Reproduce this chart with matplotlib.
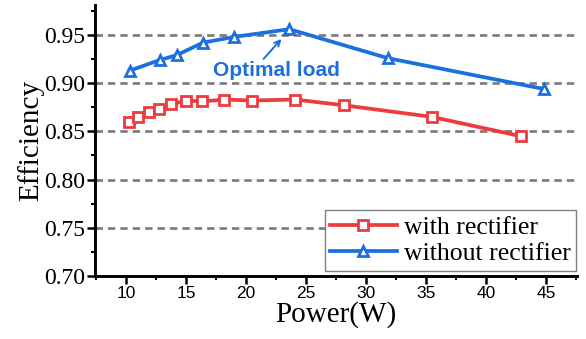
from matplotlib import pyplot as plt
from matplotlib.ticker import MultipleLocator
import numpy as np

# data
power_rect = [10.2, 11.0, 11.9, 12.7, 13.7, 15.0, 16.3, 18.2, 20.5, 24.1, 28.2, 35.5, 42.9]
eff_rect = [0.860, 0.865, 0.870, 0.873, 0.878, 0.882, 0.881, 0.883, 0.882, 0.883, 0.877, 0.865, 0.845]
power_norect = [10.3, 12.8, 14.2, 16.4, 19.0, 23.6, 31.8, 44.8]
eff_norect = [0.913, 0.924, 0.929, 0.942, 0.948, 0.956, 0.926, 0.894]
labels = ["with rectifier", "without rectifier"]

red = "#EE3B3E"
blue = "#1C6FDE"
serif = "Liberation Serif"
sans = "Liberation Sans"

fig, ax = plt.subplots(figsize=(5.86, 3.39), dpi=100)
fig.subplots_adjust(left=0.162, right=0.985, bottom=0.186, top=0.985)

ax.plot(power_rect, eff_rect, color=red, lw=2.7, marker="s", ms=6.5,
		mfc="white", mec=red, mew=2.0, label=labels[0], zorder=3)
ax.plot(power_norect, eff_norect, color=blue, lw=2.7, marker="^", ms=7.5,
		mfc="white", mec=blue, mew=2.0, label=labels[1], zorder=3)

ax.set_xlim(7.4, 47.6)
ax.set_ylim(0.70, 0.981)
ax.xaxis.set_major_locator(MultipleLocator(5))
ax.xaxis.set_minor_locator(MultipleLocator(2.5))
ax.yaxis.set_major_locator(MultipleLocator(0.05))
ax.yaxis.set_minor_locator(MultipleLocator(0.025))
ax.yaxis.set_major_formatter(plt.FormatStrFormatter("%.2f"))

# dashed horizontal grid
for yv in np.arange(0.75, 0.96, 0.05):
	ax.axhline(yv, color="#7a7a7a", lw=1.9, dashes=(2.8, 1.9), zorder=1)

for s in ["top", "right"]:
	ax.spines[s].set_visible(False)
for s in ["left", "bottom"]:
	ax.spines[s].set_linewidth(2.1)

ax.tick_params(which="major", direction="out", length=6, width=1.8, pad=1)
ax.tick_params(which="minor", direction="out", length=3, width=1.5)
for t in ax.get_yticklabels():
	t.set_fontfamily(serif)
	t.set_fontsize(17)
for t in ax.get_xticklabels():
	t.set_fontfamily(sans)
	t.set_fontsize(12.5)

ax.set_xlabel("Power(W)", fontfamily=serif, fontsize=21, labelpad=0)
ax.set_ylabel("Efficiency", fontfamily=serif, fontsize=21, labelpad=0)

# annotation
ax.annotate("", xy=(23.1, 0.948), xytext=(21.3, 0.923),
			arrowprops=dict(arrowstyle="->", color=blue, lw=1.4))
ax.text(22.5, 0.9135, "Optimal load", color=blue, fontfamily=sans,
		fontweight="bold", fontsize=15, ha="center", va="center")

leg = ax.legend(loc="lower right", bbox_to_anchor=(0.998, 0.02), borderaxespad=0,
				prop={"family": serif, "size": 18.5}, frameon=True, fancybox=False,
				edgecolor="#808080", framealpha=1, handlelength=2.6,
				handletextpad=0.3, borderpad=0.2, labelspacing=0.15)
leg.get_frame().set_linewidth(1.0)

fig.savefig("out.png", dpi=100)
